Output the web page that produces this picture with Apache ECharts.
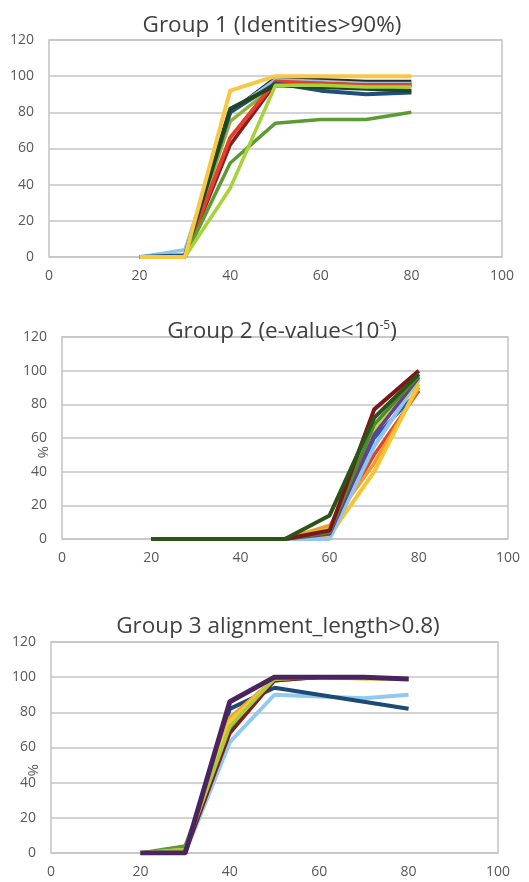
<!DOCTYPE html>
<html><head><meta charset="utf-8">
<script src="https://cdn.jsdelivr.net/npm/echarts@6/dist/echarts.min.js"></script>
<style>html,body{margin:0;padding:0;background:#fff}#c{width:529px;height:882px}</style>
</head><body><div id="c"></div>
<script>
var xValues = [20, 30, 40, 50, 60, 70, 80];
var xTicks = [0, 20, 40, 60, 80, 100];
var yTicks = [0, 20, 40, 60, 80, 100, 120];

// Group 1 (Identities>90%)
var g1Yellow     = [0, 0, 92, 100, 100, 100, 100];
var g1Black      = [0, 0, 80, 99, 98, 97, 97];
var g1LightBlue  = [0, 4, 80, 98, 97, 96, 96];
var g1Olive      = [0, 0, 75, 95, 95, 95, 95];
var g1Red        = [0, 0, 66, 97, 96, 95, 95];
var g1DarkRed    = [0, 0, 62, 96, 96, 95, 95];
var g1LightGreen = [0, 0, 38, 95, 95, 94, 94];
var g1DarkBlue   = [0, 1, 80, 96, 92, 90, 91];
var g1DarkGreen  = [0, 0, 82, 95, 94, 93, 92];
var g1MidGreen   = [0, 0, 52, 74, 76, 76, 80];

// Group 2 (e-value<10^-5)
var g2Blue       = [0, 0, 0, 0, 1, 60, 88];
var g2Red        = [0, 0, 0, 0, 5, 50, 88];
var g2Orange     = [0, 0, 0, 0, 8, 45, 90];
var g2Yellow     = [0, 0, 0, 0, 2, 40, 92];
var g2LightBlue  = [0, 0, 0, 0, 0, 55, 95];
var g2LightGreen = [0, 0, 0, 0, 6, 65, 94];
var g2Purple     = [0, 0, 0, 0, 3, 62, 96];
var g2Green      = [0, 0, 0, 0, 4, 68, 97];
var g2DarkRed    = [0, 0, 0, 0, 5, 77, 100];
var g2DarkGreen  = [0, 0, 0, 0, 14, 72, 98];

// Group 3 alignment_length>0.8)
var g3Green      = [0, 4, 70, 98, 100, 100, 99];
var g3LightBlue  = [0, 0, 63, 90, 89, 88, 90];
var g3DarkBlue   = [0, 0, 82, 94, 90, 86, 82];
var g3Yellow     = [0, 2, 75, 99, 100, 99, 99];
var g3Orange     = [0, 1, 77, 99, 100, 100, 99];
var g3DarkRed    = [0, 0, 68, 98, 100, 100, 99];
var g3LightGreen = [0, 2, 72, 99, 100, 100, 99];
var g3Purple     = [0, 0, 86, 100, 100, 100, 99];

var group1 = [
  ['Black', g1Black, '#2b2b2b', 3.5],
  ['Light blue', g1LightBlue, '#8fc6e6', 3.5],
  ['Olive', g1Olive, '#8fb33a', 3.5],
  ['Dark red', g1DarkRed, '#8e1b1b', 3.5],
  ['Red', g1Red, '#e2402c', 4],
  ['Dark blue', g1DarkBlue, '#1f4f7a', 4],
  ['Dark green', g1DarkGreen, '#20461f', 4],
  ['Medium green', g1MidGreen, '#5b9b32', 3.5],
  ['Light green', g1LightGreen, '#a6d23a', 3.5],
  ['Yellow', g1Yellow, '#f8c845', 4]
];
var group2 = [
  ['Blue', g2Blue, '#1f5fae', 3.5],
  ['Red', g2Red, '#e0452c', 3.5],
  ['Orange', g2Orange, '#f39a2c', 3.5],
  ['Yellow', g2Yellow, '#f7c530', 4],
  ['Light blue', g2LightBlue, '#90c4ec', 4],
  ['Light green', g2LightGreen, '#b5d94a', 3.5],
  ['Purple', g2Purple, '#6a3d8e', 3.5],
  ['Green', g2Green, '#4f8a2a', 3.5],
  ['Dark red', g2DarkRed, '#7e1518', 4],
  ['Dark green', g2DarkGreen, '#2a5418', 4]
];
var group3 = [
  ['Green', g3Green, '#5a9b35', 3.5],
  ['Light blue', g3LightBlue, '#92c9ee', 4],
  ['Dark blue', g3DarkBlue, '#1c4a73', 4],
  ['Orange', g3Orange, '#f0a030', 3.5],
  ['Dark red', g3DarkRed, '#7a2020', 3.5],
  ['Yellow', g3Yellow, '#f2c93a', 3.5],
  ['Light green', g3LightGreen, '#a9cc3a', 3.5],
  ['Purple', g3Purple, '#4a2460', 5]
];

var FONT = 'Open Sans';
var grids = [
  {left: 49, top: 40, width: 453, height: 217},
  {left: 62, top: 337, width: 446, height: 202},
  {left: 51, top: 642, width: 447, height: 211}
];

function xAxisFor(i) {
  return {
    type: 'value', gridIndex: i, min: xTicks[0], max: xTicks[xTicks.length - 1], interval: 20,
    axisLine: {show: false}, axisTick: {show: false}, splitLine: {show: false},
    axisLabel: {color: '#595959', fontFamily: FONT, fontSize: 14, margin: 12}
  };
}
function yAxisFor(i) {
  return {
    type: 'value', gridIndex: i, min: yTicks[0], max: yTicks[yTicks.length - 1], interval: 20,
    axisLine: {show: false}, axisTick: {show: false},
    splitLine: {lineStyle: {color: '#c4c4c4', width: 1.5}},
    axisLabel: {color: '#595959', fontFamily: FONT, fontSize: 14, margin: 15}
  };
}

var series = [];
[group1, group2, group3].forEach(function (grp, gi) {
  grp.forEach(function (s) {
    series.push({
      type: 'line', name: s[0], xAxisIndex: gi, yAxisIndex: gi,
      data: xValues.map(function (x, k) { return [x, s[1][k]]; }),
      showSymbol: false, symbol: 'none',
      lineStyle: {color: s[2], width: s[3]}, itemStyle: {color: s[2]},
      animation: false
    });
  });
});

var titleStyle = {color: '#404040', fontFamily: FONT, fontSize: 22.5, fontWeight: 'normal'};
var chart = echarts.init(document.getElementById('c'), null, {renderer: 'canvas'});
chart.setOption({
  animation: false,
  backgroundColor: '#ffffff',
  title: [
    {text: 'Group 1 (Identities>90%)', left: 267, top: 9, textAlign: 'center', textStyle: titleStyle},
    {text: '{a|Group 2 (e-value<10}{s|-5}{a|)}', left: 277, top: 315, textAlign: 'center',
      textStyle: {fontWeight: 'normal', rich: {
        a: {color: '#404040', fontFamily: FONT, fontSize: 22.5, fontWeight: 'normal'},
        s: {color: '#404040', fontFamily: FONT, fontSize: 12, fontWeight: 'normal', verticalAlign: 'top', padding: [0, 0, 12, 0]}
      }}},
    {text: 'Group 3 alignment_length>0.8)', left: 273, top: 610, textAlign: 'center', textStyle: titleStyle}
  ],
  grid: grids.map(function (g) {
    return Object.assign({show: true, borderColor: '#c4c4c4', borderWidth: 1.5, backgroundColor: 'transparent'}, g);
  }),
  xAxis: [xAxisFor(0), xAxisFor(1), xAxisFor(2)],
  yAxis: [yAxisFor(0), yAxisFor(1), yAxisFor(2)],
  graphic: [
    {type: 'text', left: 35, top: 446, rotation: -Math.PI / 2,
      style: {text: '%', fill: '#595959', font: '15px "Open Sans"'}},
    {type: 'text', left: 25, top: 764, rotation: -Math.PI / 2,
      style: {text: '%', fill: '#595959', font: '15px "Open Sans"'}}
  ],
  series: series
});
</script>
</body></html>
